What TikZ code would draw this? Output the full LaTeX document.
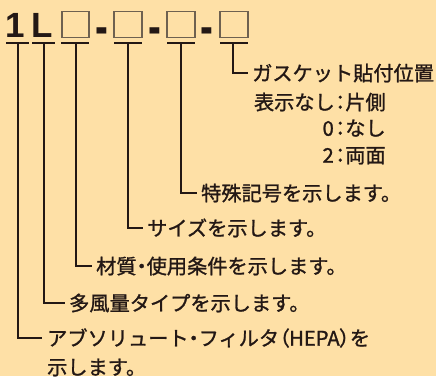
\documentclass[tikz,border=0pt]{standalone}
\usepackage{fontspec}
\setmainfont{Noto Sans CJK JP}[FakeBold=1.2]
\newfontfamily\paltfont{Noto Sans CJK JP}[RawFeature=+palt, FakeBold=1.2]
\newcommand{\pp}[1]{{\paltfont #1}}
\newfontfamily\headfont{Liberation Sans}
\definecolor{bgc}{HTML}{FEE0A6}
\definecolor{ink}{HTML}{231815}
\definecolor{boxc}{HTML}{6E6150}
\tikzset{
  ln/.style={draw=ink, line width=1.2pt},
  sq/.style={draw=boxc, line width=1.6pt, minimum width=27.5pt, minimum height=26pt, inner sep=0pt},
  head/.style={text=ink, inner sep=0pt, font=\headfont\bfseries\fontsize{35pt}{35pt}\selectfont},
  jt/.style={text=ink, inner ysep=0pt, inner xsep=4pt, text height=16.8pt, text depth=1.4pt,
    font=\fontsize{20.2pt}{24pt}\selectfont},
}
\begin{document}
\begin{tikzpicture}[x=1pt,y=-1pt]
\fill[bgc] (0,0) rectangle (436,376);
\useasboundingbox (0,0) rectangle (436,376);
% header
\node[head, anchor=base] (h1) at (15.5,37) {1};
\node[head, anchor=base] (h2) at (42.5,37) {L};
\node[sq] (b1) at (75.5,24.5) {};
\node[sq] (b2) at (128,24.5) {};
\node[sq] (b3) at (181,24.5) {};
\node[sq] (b4) at (234,24.5) {};
\node[head, anchor=base] (d1) at (101.7,44) {\scalebox{1.1}[1.5]{-}};
\node[head, anchor=base] (d2) at (154.5,44) {\scalebox{1.1}[1.5]{-}};
\node[head, anchor=base] (d3) at (207.3,44) {\scalebox{1.1}[1.5]{-}};
% underlines and stems
\foreach \n/\l/\r/\v in {1/6/29/18, 2/32/55/44, 3/61/89/76, 4/114/142/128, 5/167/195/181, 6/220/248/233}{
  \coordinate (ul\n) at (\l,43);
  \coordinate (ur\n) at (\r,43);
  \coordinate (v\n) at (\v,43);
  \draw[ln] (ul\n) -- (ur\n);
}
% texts
\node[jt, anchor=west] (t6) at (248,73) {ガスケット貼付位置};
\node[jt, anchor=east, inner xsep=0pt] (r1a) at (335,102) {表示なし};
\node[jt, anchor=west, inner xsep=0pt] (r1b) at (335,102) {\pp{：}片側};
\node[jt, anchor=east, inner xsep=0pt] (r2a) at (334,128) {0};
\node[jt, anchor=west, inner xsep=0pt] (r2b) at (335,128) {\pp{：}なし};
\node[jt, anchor=east, inner xsep=0pt] (r3a) at (334,155) {2};
\node[jt, anchor=west, inner xsep=0pt] (r3b) at (335,155) {\pp{：}両面};
\node[jt, anchor=west] (t5) at (197,193) {特殊記号を示します。};
\node[jt, anchor=west] (t4) at (143,228) {サイズを示します。};
\node[jt, anchor=west] (t3) at (92,266) {材質\pp{・}使用条件を示します。};
\node[jt, anchor=west] (t2) at (65,303) {多風量タイプを示します。};
\node[jt, anchor=west, inner xsep=5pt] (t1) at (42,338) {アブソリュート\pp{・}フィルタ\pp{（}HEPA\pp{）}を};
\node[jt, anchor=west, inner xsep=0pt] (t1b) at (t1.west |- 0,367) {\hspace{5pt}示します。};
% connectors
\draw[ln] (v6) |- (t6.west);
\draw[ln] (v5) |- (t5.west);
\draw[ln] (v4) |- (t4.west);
\draw[ln] (v3) |- (t3.west);
\draw[ln] (v2) |- (t2.west);
\draw[ln] (v1) |- (t1.west);
\end{tikzpicture}
\end{document}
